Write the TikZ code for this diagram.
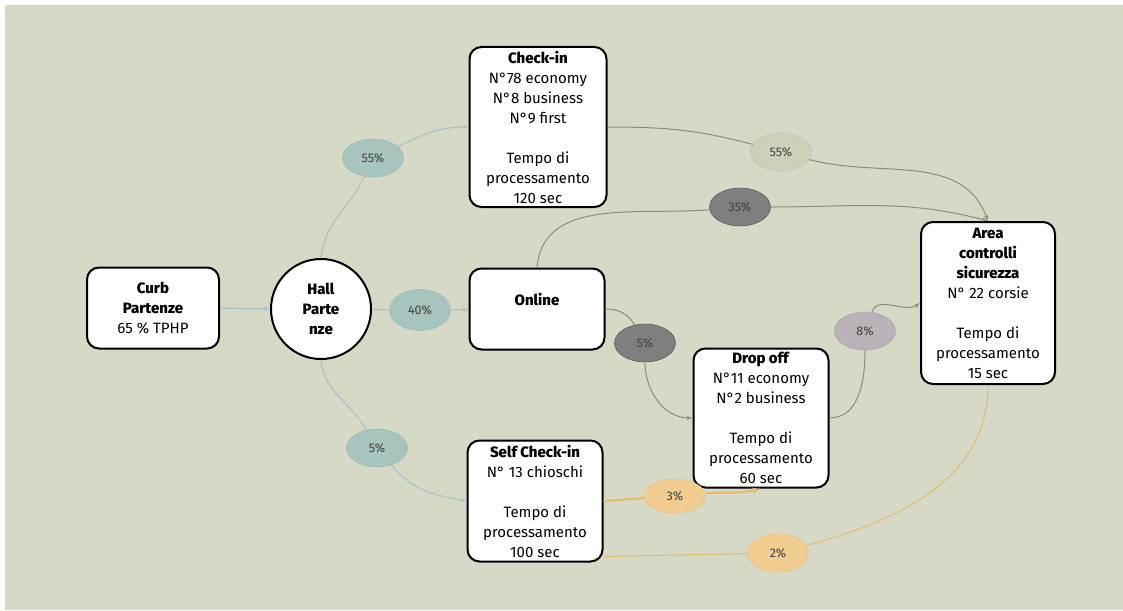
\documentclass[tikz,border=0pt]{standalone}
\usepackage{fontspec}
\setmainfont{Fira Sans}[BoldFont={Fira Sans ExtraBold}]
\usetikzlibrary{arrows,shapes.geometric}
\definecolor{paper}{HTML}{D6D9C6}
\definecolor{tealfill}{HTML}{A8C4BF}
\definecolor{tealline}{HTML}{95B4B0}
\definecolor{sagefill}{HTML}{CDD1BA}
\definecolor{sageline}{HTML}{BCC1A8}
\definecolor{darkfill}{HTML}{7F7F7F}
\definecolor{darkline}{HTML}{4A4A4A}
\definecolor{mauvefill}{HTML}{B9B3B9}
\definecolor{mauveline}{HTML}{A49EA4}
\definecolor{orangefill}{HTML}{F2CD92}
\definecolor{orangeline}{HTML}{E6BC78}
\definecolor{bluewire}{HTML}{A6C0C5}
\definecolor{olivewire}{HTML}{8A8E77}
\definecolor{orangewire}{HTML}{E2BB70}

\begin{document}
\begin{tikzpicture}[x=1pt,y=-1pt]
            \tikzset{box/.style = {shape=rectangle,draw,line width=2pt,rounded corners=12pt,fill=white,align=center,inner sep=0pt,font=\fontsize{15}{20}\selectfont}}
            \tikzset{share/.style = {shape=ellipse,draw,minimum width=61pt,minimum height=38pt,inner sep=0pt,text=black!75,font=\fontsize{12.5}{14}\selectfont}}
            \tikzset{edge/.style = {->,> = latex',line width=1pt}}
            % background
            \fill[white] (0,0) rectangle (1123,610);
            \fill[paper] (5,5) rectangle (1123,610);
            \useasboundingbox (0,0) rectangle (1123,610);
            % vertices
            \node[box, minimum width=132pt, minimum height=81pt] (curb) at (153,308) {\textbf{Curb}\\\textbf{Partenze}\\65 \% TPHP};
            \node[shape=circle, draw, line width=2pt, fill=white, minimum size=100pt, inner sep=0pt, align=center, font=\fontsize{15}{20}\selectfont] (hall) at (321,309) {\textbf{Hall}\\\textbf{Parte}\\\textbf{nze}};
            \node[box, minimum width=137pt, minimum height=160pt] (checkin) at (538,127) {\textbf{Check-in}\\N°78 economy\\N°8 business\\N°9 first\\~\\Tempo di\\processamento\\120 sec};
            \node[box, minimum width=135pt, minimum height=81pt] (online) at (537,309) {\textbf{Online}\\~};
            \node[box, minimum width=135pt, minimum height=121pt] (self) at (535,501) {\textbf{Self Check-in}\\N° 13 chioschi\\~\\Tempo di\\processamento\\100 sec};
            \node[box, minimum width=135pt, minimum height=139pt] (drop) at (761,418) {\textbf{Drop off}\\N°11 economy\\N°2 business\\~\\Tempo di\\processamento\\60 sec};
            \node[box, minimum width=134pt, minimum height=162pt] (area) at (988,303) {\textbf{Area}\\\textbf{controlli}\\\textbf{sicurezza}\\N° 22 corsie\\~\\Tempo di\\processamento\\15 sec};
            % shares
            \node[share, fill=tealfill, draw=tealline] (p55) at (373,158) {55\%};
            \node[share, fill=tealfill, draw=tealline, minimum height=41pt] (p40) at (420,310) {40\%};
            \node[share, fill=tealfill, draw=tealline] (p5) at (377,448) {5\%};
            \node[share, fill=sagefill, draw=sageline] (p55b) at (781,152) {55\%};
            \node[share, fill=darkfill, draw=darkline] (p35) at (740,207) {35\%};
            \node[share, fill=darkfill, draw=darkline] (p5b) at (645,343) {5\%};
            \node[share, fill=mauvefill, draw=mauveline] (p8) at (865,331) {8\%};
            \node[share, fill=orangefill, draw=orangeline, minimum height=34pt] (p3) at (675,496) {3\%};
            \node[share, fill=orangefill, draw=orangeline] (p2) at (778,553) {2\%};
            %edges
            \draw[edge, bluewire] (curb) to (hall);
            \draw[bluewire, line width=1pt] (hall.north) to [out=85, in=245] (p55);
            \draw[edge, bluewire] (p55) to [out=25, in=180] (checkin.west);
            \draw[bluewire, line width=1pt] (hall) to (p40);
            \draw[edge, bluewire] (p40) to (online);
            \draw[bluewire, line width=1pt] (hall.south) to [out=-85, in=120] (p5);
            \draw[edge, bluewire] (p5) to [out=-50, in=170] (self.west);
            \draw[olivewire, line width=1pt] (checkin.east) to [out=0, in=165] (p55b);
            \draw[edge, olivewire] (p55b) to [out=-15, in=110] (area.north);
            \draw[olivewire, line width=1pt] (online.north) to [out=85, in=185] (p35);
            \draw[edge, olivewire] (p35) to [out=0, in=165] (area.north);
            \draw[olivewire, line width=1pt] (online.east) to [out=0, in=120] (p5b);
            \draw[edge, olivewire] (p5b) to [out=-90, in=180] (drop.west);
            \draw[olivewire, line width=1pt] (drop.east) to [out=0, in=-90] (p8);
            \draw[edge, olivewire] (p8) to [out=70, in=215] (area.west);
            \draw[orangewire, line width=2pt] (self.east) to (p3);
            \draw[edge, orangewire, line width=2pt] (p3) to [out=5, in=195] (drop.south);
            \draw[orangewire, line width=1pt] (self.-39) to (p2);
            \draw[orangewire, line width=1pt] (p2) to [out=15, in=-90] (area.south);
        \end{tikzpicture}
\end{document}
